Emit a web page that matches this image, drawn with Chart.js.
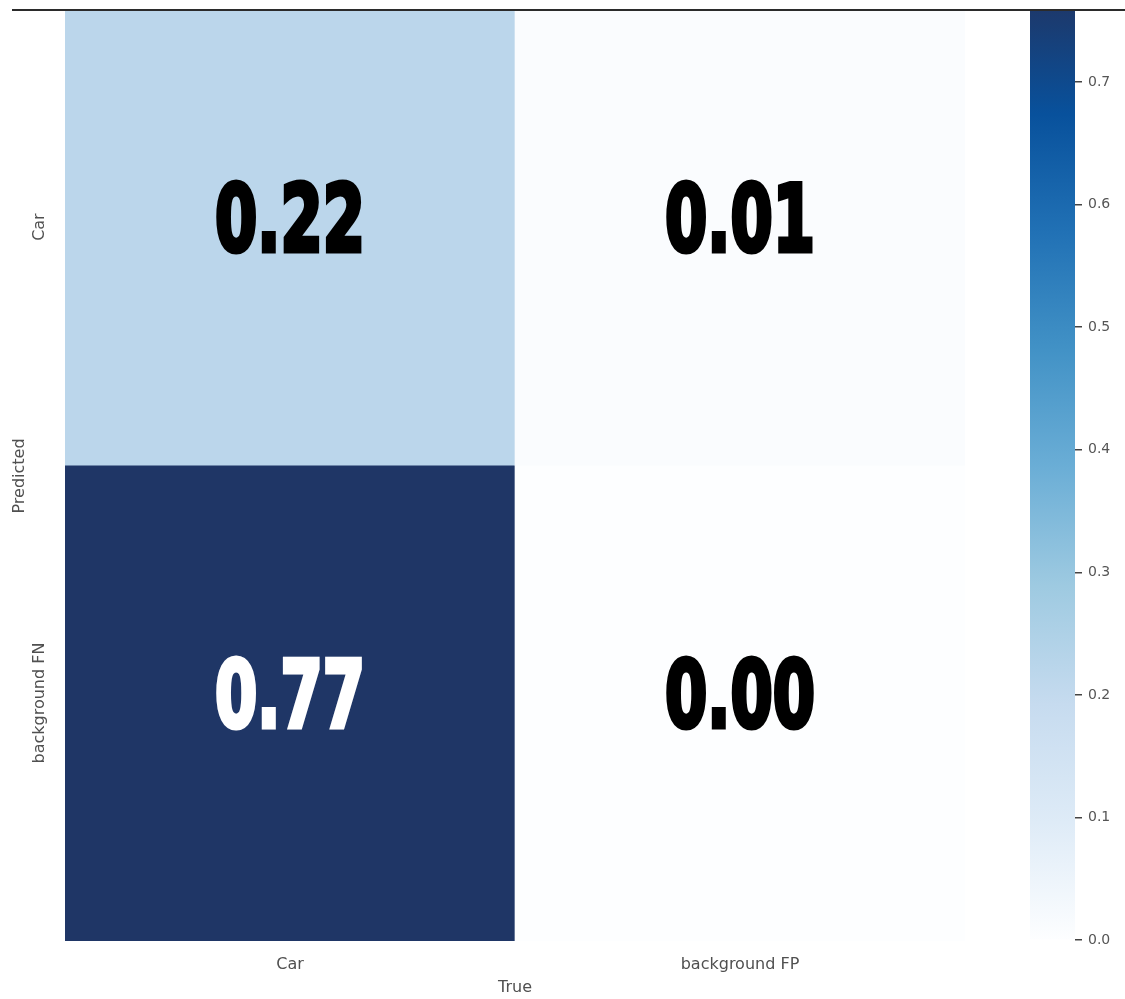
<!DOCTYPE html>
<html>
<head>
<meta charset="utf-8">
<script src="https://cdn.jsdelivr.net/npm/chart.js@4.4.1/dist/chart.umd.min.js"></script>
<style>
  html, body { margin: 0; padding: 0; background: #fff; }
  #wrap { position: relative; width: 1125px; height: 999px; overflow: hidden; }
  #heat { position: absolute; left: 0; top: 0; }
  #cbar { position: absolute; left: 1000px; top: 0; }
  #topline { position: absolute; left: 12px; right: 0; top: 9px; height: 2px; background: #2b2b2b; }
</style>
</head>
<body>
<div id="wrap">
  <canvas id="heat" width="1000" height="999"></canvas>
  <canvas id="cbar" width="125" height="999"></canvas>
  <div id="topline"></div>
</div>
<script>
// données de la matrice de confusion
const trueLabels = ['Car', 'background FP'];
const predictedLabels = ['Car', 'background FN'];
const rowCar = [0.22, 0.01];
const rowBackgroundFN = [0.77, 0.00];
const colorbarTicks = [0.0, 0.1, 0.2, 0.3, 0.4, 0.5, 0.6, 0.7];
const vmax = 0.77;

const matrix = [rowCar, rowBackgroundFN];

// palette "Blues"
const bluesStops = [
  [0.0, [253, 254, 255]], [0.125, [222, 235, 247]], [0.25, [198, 219, 239]],
  [0.375, [158, 202, 225]], [0.5, [107, 174, 214]], [0.625, [66, 146, 198]],
  [0.75, [33, 113, 181]], [0.875, [8, 81, 156]], [1.0, [31, 54, 102]]
];
function blues(t) {
  t = Math.max(0, Math.min(1, t));
  for (let i = 1; i < bluesStops.length; i++) {
    const [t1, c1] = bluesStops[i];
    const [t0, c0] = bluesStops[i - 1];
    if (t <= t1) {
      const f = (t - t0) / (t1 - t0);
      const c = c0.map((v, k) => Math.round(v + (c1[k] - v) * f));
      return `rgb(${c[0]},${c[1]},${c[2]})`;
    }
  }
  const c = bluesStops[bluesStops.length - 1][1];
  return `rgb(${c[0]},${c[1]},${c[2]})`;
}

const labelFont = { family: 'DejaVu Sans', size: 16 };
const labelColor = '#505050';

// valeurs dans les cases
const cellText = {
  id: 'cellText',
  afterDatasetsDraw(chart) {
    const ctx = chart.ctx;
    chart.data.datasets.forEach((ds, di) => {
      chart.getDatasetMeta(di).data.forEach((bar, i) => {
        const v = ds.values[i];
        const cy = (bar.y + bar.base) / 2;
        ctx.save();
        ctx.translate(bar.x, cy);
        ctx.scale(0.66, 1);
        ctx.font = 'bold 92px "DejaVu Sans"';
        ctx.textAlign = 'center';
        ctx.textBaseline = 'middle';
        const col = v > vmax / 2 ? '#ffffff' : '#000000';
        ctx.fillStyle = col;
        ctx.strokeStyle = col;
        ctx.lineWidth = 5;
        ctx.lineJoin = 'miter';
        ctx.fillText(v.toFixed(2), 0, 0);
        ctx.strokeText(v.toFixed(2), 0, 0);
        ctx.restore();
      });
    });
  }
};

// étiquettes verticales de l'axe Predicted
const rowLabels = {
  id: 'rowLabels',
  afterDraw(chart) {
    const ctx = chart.ctx;
    const y = chart.scales.y;
    const n = predictedLabels.length;
    ctx.save();
    ctx.font = labelFont.size + 'px "' + labelFont.family + '"';
    ctx.fillStyle = labelColor;
    ctx.textAlign = 'center';
    ctx.textBaseline = 'middle';
    predictedLabels.forEach((name, r) => {
      const py = y.getPixelForValue(n - 1 - r + 0.5);
      ctx.save();
      ctx.translate(y.right - 25, py);
      ctx.rotate(-Math.PI / 2);
      ctx.fillText(name, 0, 0);
      ctx.restore();
    });
    ctx.restore();
  }
};

new Chart(document.getElementById('heat'), {
  type: 'bar',
  data: {
    labels: trueLabels,
    datasets: predictedLabels.map((name, r) => {
      const lo = predictedLabels.length - 1 - r;
      return {
        label: name,
        data: trueLabels.map(() => [lo, lo + 1]),
        values: matrix[r],
        backgroundColor: matrix[r].map(v => blues(v / vmax)),
        borderWidth: 0,
        barPercentage: 1,
        categoryPercentage: 1,
        grouped: false,
        clip: 0
      };
    })
  },
  options: {
    responsive: false,
    animation: false,
    layout: { padding: { top: 11, right: 35, left: 0, bottom: 0 } },
    plugins: { legend: { display: false }, tooltip: { enabled: false } },
    scales: {
      x: {
        grid: { display: false, drawTicks: false },
        border: { display: false },
        ticks: { color: labelColor, font: labelFont, padding: 14, maxRotation: 0 },
        title: { display: true, text: 'True', color: labelColor, font: labelFont, padding: { top: 0, bottom: 2 } },
        afterFit(s) { s.height = 58; }
      },
      y: {
        min: 0,
        max: 1.954,
        grid: { display: false, drawTicks: false },
        border: { display: false },
        ticks: { display: false },
        title: { display: true, text: 'Predicted', color: labelColor, font: labelFont, padding: { top: 10, bottom: 0 } },
        afterFit(s) { s.width = 65; }
      }
    }
  },
  plugins: [cellText, rowLabels]
});

// barre de couleurs
function colorbarGradient(chart) {
  if (!chart.chartArea) return null;
  const y = chart.scales.y;
  const g = chart.ctx.createLinearGradient(0, y.getPixelForValue(0), 0, y.getPixelForValue(vmax));
  bluesStops.forEach(([t]) => g.addColorStop(t, blues(t)));
  return g;
}

new Chart(document.getElementById('cbar'), {
  type: 'bar',
  data: {
    labels: ['scale'],
    datasets: [{
      data: [[0, vmax]],
      backgroundColor: ctx => colorbarGradient(ctx.chart),
      borderWidth: 0,
      barPercentage: 1,
      categoryPercentage: 1,
      clip: 0
    }]
  },
  options: {
    responsive: false,
    animation: false,
    layout: { padding: { left: 30, top: 11, bottom: 59, right: 0 } },
    plugins: { legend: { display: false }, tooltip: { enabled: false } },
    scales: {
      x: { display: false },
      y: {
        position: 'right',
        min: 0,
        max: 0.758,
        afterBuildTicks(s) { s.ticks = colorbarTicks.map(v => ({ value: v })); },
        grid: { drawOnChartArea: false, drawTicks: true, tickLength: 7, color: '#444', lineWidth: 1.5 },
        border: { display: false },
        ticks: { color: '#555', font: { family: 'DejaVu Sans', size: 14 }, padding: 6, callback: v => v.toFixed(1) },
        afterFit(s) { s.width = 50; s.paddingTop = 0; s.paddingBottom = 0; }
      }
    }
  }
});
</script>
</body>
</html>
